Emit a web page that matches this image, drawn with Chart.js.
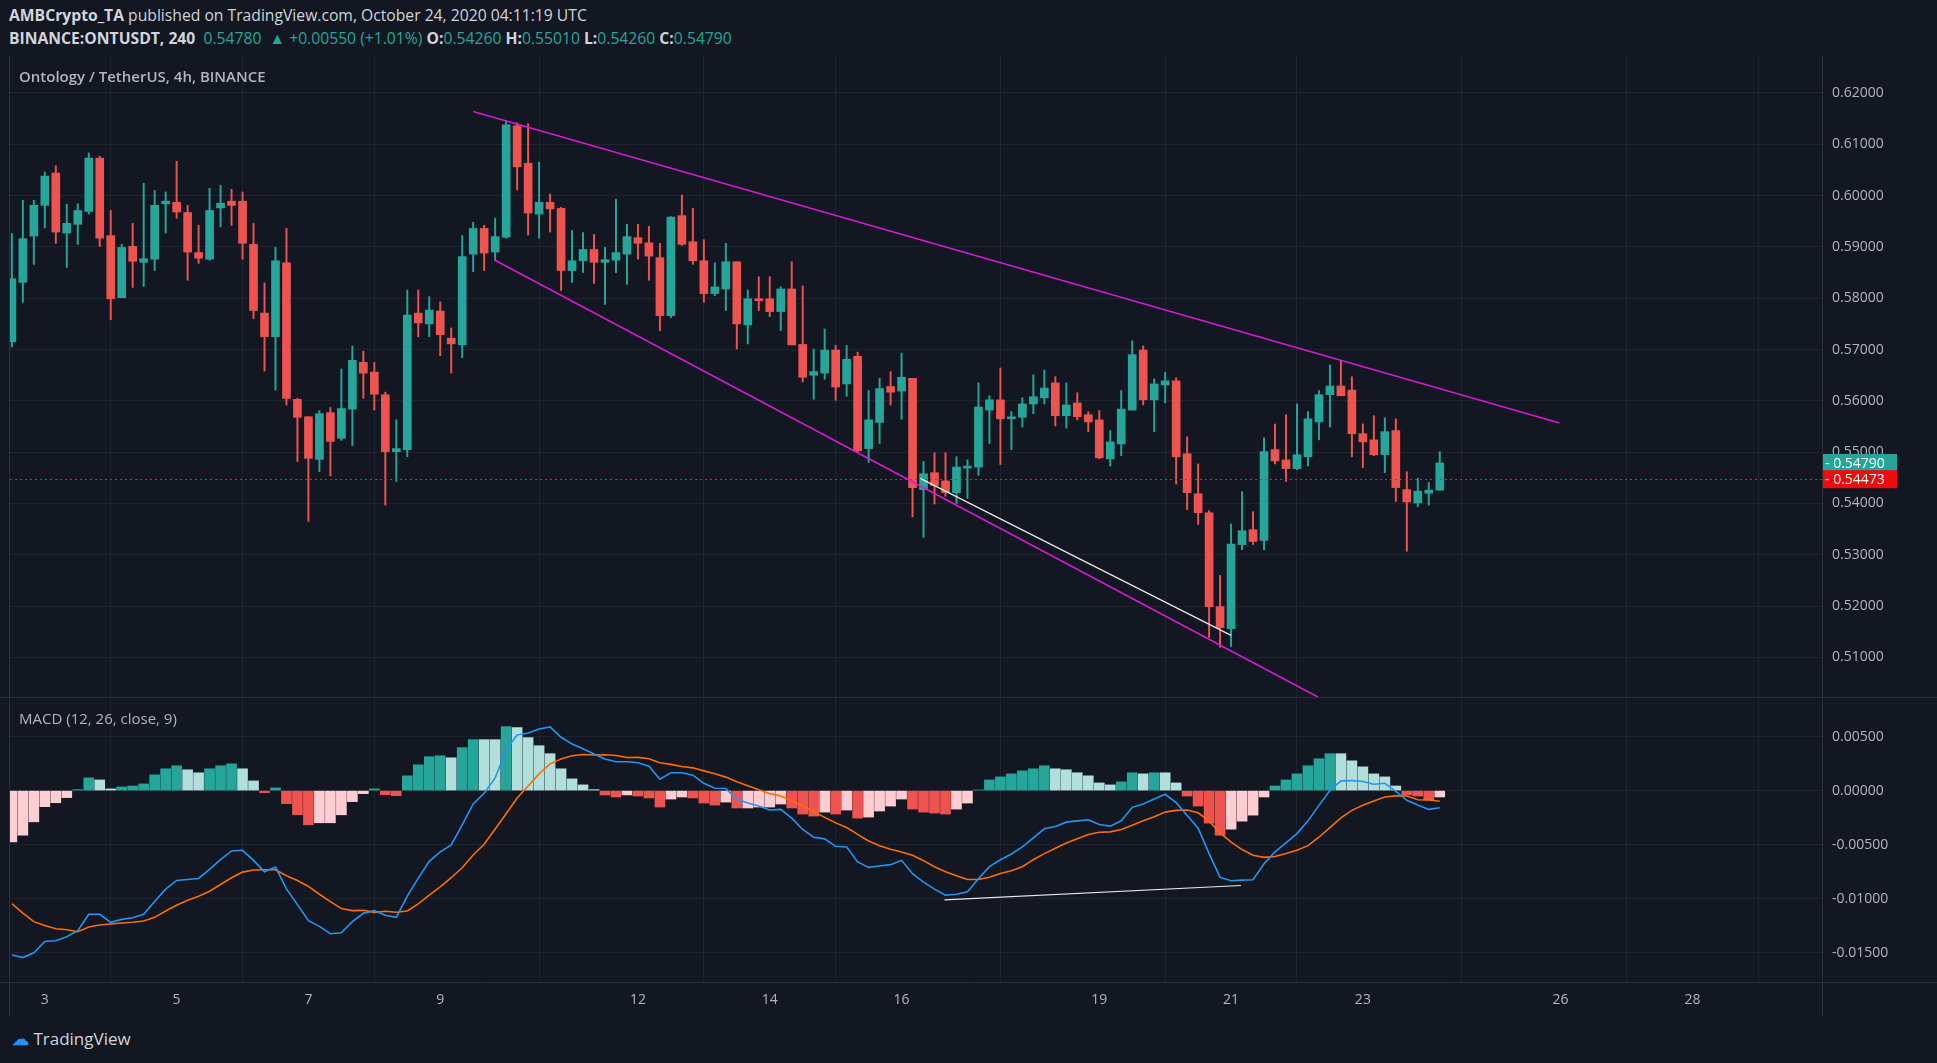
<!DOCTYPE html>
<html><head><meta charset="utf-8">
<script src="https://cdn.jsdelivr.net/npm/chart.js@4.4.1/dist/chart.umd.min.js"></script>
<style>
html,body{margin:0;padding:0;background:#131722;width:1937px;height:1063px;overflow:hidden;font-family:"Open Sans","Noto Sans",sans-serif;}
.t{position:absolute;white-space:pre;color:#d1d4dc;font-size:15.7px;}
.g{color:#26a69a}
canvas{position:absolute;left:0;}
</style></head><body>
<div class="t" style="left:9px;top:4px;"><b>AMBCrypto_TA</b> published on TradingView.com, October 24, 2020 04:11:19 UTC</div>
<div class="t" style="left:9px;top:27px;"><b>BINANCE:ONTUSDT, 240</b>  <span class="g">0.54780</span>  <span class="g">▲ +0.00550 (+1.01%)</span> <b>O:</b><span class="g">0.54260</span> <b>H:</b><span class="g">0.55010</span> <b>L:</b><span class="g">0.54260</span> <b>C:</b><span class="g">0.54790</span></div>
<canvas id="pc" width="1937" height="642" style="top:56px"></canvas>
<canvas id="mc" width="1937" height="318" style="top:698px"></canvas>
<div class="t" style="left:19px;top:66px;color:#b2b5be;font-size:15px;font-weight:600;">Ontology / TetherUS, 4h, BINANCE</div>
<div class="t" style="left:19px;top:708px;color:#b2b5be;font-size:15px;">MACD (12, 26, close, 9)</div>
<div style="position:absolute;left:0;top:697px;width:1937px;height:1px;background:#2a2e39"></div>
<div class="t" style="left:12px;top:1027px;font-size:17px;color:#d1d4dc;"><span style="color:#2196f3;font-weight:bold;">☁</span> TradingView</div>
<script>
const opens=[.5715,.5831,.5921,.5981,.6044,.5927,.5944,.5969,.6073,.5922,.5801,.5901,.5870,.5876,.5984,.5987,.5967,.5889,.5876,.5976,.5989,.5989,.5905,.5771,.5725,.5869,.5603,.5569,.5486,.5577,.5527,.5584,.5675,.5656,.5612,.5501,.5505,.5771,.5750,.5775,.5722,.5709,.5886,.5936,.5890,.5919,.6136,.6063,.5964,.5987,.5975,.5854,.5873,.5895,.5870,.5874,.5886,.5918,.5908,.5879,.5766,.5961,.5910,.5873,.5809,.5818,.5871,.5748,.5799,.5799,.5774,.5818,.5710,.5650,.5654,.5699,.5633,.5687,.5507,.5558,.5628,.5619,.5644,.5427,.5460,.5444,.5421,.5469,.5471,.5582,.5602,.5565,.5568,.5594,.5606,.5635,.5571,.5596,.5573,.5563,.5487,.5516,.5582,.5699,.5602,.5631,.5639,.5497,.5419,.5382,.5199,.5156,.5320,.5349,.5328,.5505,.5485,.5468,.5491,.5559,.5612,.5629,.5621,.5536,.5524,.5495,.5542,.5427,.5401,.5420,.5426];
const closes=[.5838,.5916,.5981,.6038,.5929,.5946,.5971,.6073,.5917,.5799,.5899,.5872,.5877,.5981,.5989,.5968,.5890,.5878,.5971,.5985,.5981,.5907,.5776,.5725,.5873,.5605,.5568,.5488,.5575,.5521,.5585,.5679,.5654,.5613,.5501,.5507,.5767,.5752,.5777,.5729,.5711,.5881,.5936,.5888,.5920,.6138,.6056,.5966,.5987,.5974,.5854,.5873,.5895,.5870,.5875,.5889,.5920,.5907,.5882,.5766,.5958,.5905,.5873,.5809,.5822,.5871,.5750,.5799,.5795,.5774,.5818,.5709,.5646,.5657,.5699,.5627,.5681,.5503,.5563,.5624,.5617,.5646,.5431,.5458,.5435,.5421,.5471,.5471,.5588,.5602,.5565,.5567,.5594,.5608,.5625,.5571,.5592,.5569,.5559,.5489,.5520,.5584,.5690,.5602,.5633,.5639,.5491,.5421,.5382,.5199,.5158,.5321,.5347,.5326,.5501,.5483,.5468,.5495,.5565,.5612,.5629,.5610,.5536,.5520,.5495,.5540,.5431,.5403,.5424,.5426,.5479];
const highs=[.5926,.5991,.5991,.6046,.6058,.5983,.5984,.6083,.6077,.5971,.5905,.5946,.6024,.6010,.6007,.6067,.5981,.5942,.6014,.6020,.6012,.6007,.5946,.5830,.5899,.5936,.5605,.5569,.5581,.5587,.5662,.5707,.5697,.5675,.5617,.5563,.5816,.5816,.5803,.5793,.5742,.5922,.5948,.5942,.5956,.6146,.6142,.6140,.6065,.6003,.5977,.5932,.5928,.5924,.5899,.5993,.5944,.5944,.5940,.5907,.5959,.6001,.5975,.5914,.5869,.5907,.5871,.5816,.5842,.5842,.5822,.5871,.5824,.5701,.5740,.5708,.5708,.5695,.5620,.5644,.5657,.5693,.5644,.5482,.5499,.5499,.5491,.5485,.5635,.5610,.5664,.5579,.5606,.5651,.5660,.5647,.5635,.5616,.5579,.5581,.5542,.5620,.5717,.5707,.5643,.5656,.5645,.5530,.5477,.5386,.5260,.5360,.5423,.5384,.5528,.5555,.5573,.5594,.5579,.5620,.5670,.5678,.5647,.5555,.5571,.5567,.5565,.5462,.5449,.5441,.5501];
const lows=[.5705,.5792,.5866,.5937,.5907,.5860,.5905,.5964,.5901,.5758,.5801,.5821,.5823,.5854,.5927,.5956,.5835,.5868,.5874,.5939,.5942,.5876,.5760,.5658,.5621,.5592,.5482,.5365,.5462,.5454,.5523,.5513,.5605,.5582,.5397,.5443,.5491,.5725,.5725,.5688,.5654,.5684,.5852,.5854,.5874,.5917,.6011,.5923,.5917,.5929,.5815,.5831,.5850,.5829,.5788,.5850,.5827,.5876,.5835,.5737,.5762,.5903,.5866,.5792,.5805,.5776,.5701,.5711,.5776,.5764,.5737,.5709,.5637,.5603,.5642,.5601,.5609,.5501,.5480,.5517,.5592,.5564,.5374,.5334,.5399,.5414,.5400,.5410,.5455,.5517,.5476,.5505,.5549,.5575,.5594,.5551,.5547,.5563,.5540,.5487,.5473,.5493,.5582,.5592,.5540,.5596,.5438,.5388,.5359,.5139,.5120,.5121,.5310,.5320,.5310,.5477,.5443,.5466,.5473,.5524,.5549,.5610,.5491,.5470,.5493,.5460,.5404,.5307,.5394,.5397,.5426];
// MACD values in thousandths
const histK=[-4.75,-4.13,-2.89,-1.49,-1.12,-0.65,0.09,1.18,0.99,0.16,0.34,0.43,0.62,1.46,2.02,2.30,1.93,1.65,2.02,2.30,2.48,2.02,0.90,-0.19,0.25,-1.21,-2.24,-3.17,-2.98,-2.98,-2.24,-1.02,-0.28,0.16,-0.37,-0.47,1.37,2.39,3.14,3.23,3.04,3.98,4.72,4.72,4.72,5.93,5.84,4.91,4.16,3.42,2.02,1.09,0.53,0.09,-0.40,-0.59,-0.40,-0.50,-0.68,-1.52,-0.78,-0.59,-0.68,-1.15,-1.34,-1.06,-1.61,-1.61,-1.52,-1.52,-1.24,-1.61,-2.17,-2.36,-1.99,-2.17,-1.80,-2.55,-2.45,-1.89,-1.43,-0.78,-1.71,-1.99,-2.08,-2.17,-1.71,-1.15,0.06,0.99,1.27,1.55,1.83,2.02,2.30,2.02,1.93,1.65,1.37,0.71,0.53,0.81,1.65,1.55,1.65,1.65,0.71,-0.50,-1.43,-3.01,-4.13,-3.57,-2.83,-2.27,-0.59,0.43,0.99,1.55,2.30,2.95,3.42,3.42,2.76,2.20,1.55,1.27,0.43,-0.40,-0.50,-0.87,-0.59];
const macdK=[-15.22,-15.47,-15.03,-13.98,-13.91,-13.54,-12.98,-11.46,-11.46,-12.20,-11.93,-11.77,-11.46,-10.28,-9.13,-8.32,-8.23,-8.14,-7.30,-6.40,-5.59,-5.53,-6.46,-7.52,-7.08,-9.10,-10.56,-12.05,-12.58,-13.26,-13.17,-12.14,-11.37,-11.12,-11.55,-11.74,-9.78,-8.11,-6.55,-5.68,-5.03,-3.17,-1.24,-0.25,1.17,3.79,5.16,5.34,5.71,5.90,4.94,4.32,3.88,3.39,2.92,2.67,2.67,2.58,2.27,1.06,1.65,1.65,1.43,0.68,0.22,0.19,-0.78,-1.15,-1.43,-1.80,-1.74,-2.55,-3.60,-4.32,-4.47,-5.16,-5.22,-6.61,-7.11,-6.99,-6.86,-6.46,-7.70,-8.48,-9.13,-9.69,-9.60,-9.38,-8.17,-7.04,-6.40,-5.87,-5.22,-4.38,-3.54,-3.32,-2.92,-2.80,-2.70,-3.14,-3.29,-2.80,-1.55,-1.24,-0.78,-0.34,-1.12,-2.30,-3.48,-5.84,-8.04,-8.35,-8.29,-8.26,-6.77,-5.68,-4.84,-3.98,-2.80,-1.37,0.00,0.90,0.93,0.84,0.59,0.68,-0.06,-0.90,-1.34,-1.74,-1.58];
const dayLabels=['3','5','7','9','12','14','16','19','21','23','26','28'];
const dayIndex=[3,15,27,39,57,69,81,99,111,123,141,153];
const priceTicks=[0.51,0.52,0.53,0.54,0.55,0.56,0.57,0.58,0.59,0.60,0.61,0.62];
const macdTicks=[0.005,0,-0.005,-0.01,-0.015];
const upperLine=[[42.0,0.6164],[140.9,0.5557]];
const lowerLine=[[43.9,0.5875],[118.9,0.5023]];
const whiteLine=[[82.7,0.5449],[111.0,0.5143]];
const macdWhite=[[84.9,-0.01012],[111.9,-0.00879]];
const lastPrice=0.54790, prevLine=0.54473;

const UP='#26a69a',DN='#ef5350',GRID='#1f2330',TXT='#b2b5be',BG='#131722';
Chart.defaults.font.family='"Open Sans","Noto Sans",sans-serif';
Chart.defaults.font.size=14;
Chart.defaults.color=TXT;
const XMIN=-0.17,XMAX=164.8;
const colors=opens.map((o,i)=>closes[i]>=o?UP:DN);
const xScale=(showLabels)=>({type:'linear',min:XMIN,max:XMAX,offset:false,
  afterBuildTicks:s=>{s.ticks=dayIndex.map(v=>({value:v}));},
  afterFit:s=>{s.height=showLabels?34:0;s.paddingLeft=0;s.paddingRight=0;},
  grid:{color:GRID,drawTicks:false},border:{display:false},
  ticks:{display:showLabels,autoSkip:false,maxRotation:0,padding:10,color:TXT,
    callback:(v)=>{const k=dayIndex.indexOf(v);return k>=0?dayLabels[k]:'';}}});
function line(ctx,ch,pts,col,w,yid){const xs=ch.scales.x,ys=ch.scales[yid];ctx.save();
  ctx.beginPath();ctx.rect(ch.chartArea.left,ch.chartArea.top,ch.chartArea.right-ch.chartArea.left,ch.chartArea.bottom-ch.chartArea.top);ctx.clip();
  ctx.strokeStyle=col;ctx.lineWidth=w;ctx.beginPath();
  ctx.moveTo(xs.getPixelForValue(pts[0][0]),ys.getPixelForValue(pts[0][1]));
  ctx.lineTo(xs.getPixelForValue(pts[1][0]),ys.getPixelForValue(pts[1][1]));ctx.stroke();ctx.restore();}
const bgPlugin={id:'bg',beforeDraw(ch){const c=ch.ctx;c.save();c.fillStyle=BG;c.fillRect(0,0,ch.width,ch.height);c.restore();},
  afterDraw(ch){const c=ch.ctx,a=ch.chartArea;c.save();c.strokeStyle='#2a2e39';c.lineWidth=1;c.beginPath();c.moveTo(a.right+0.5,0);c.lineTo(a.right+0.5,ch.height);c.moveTo(a.left-0.5,0);c.lineTo(a.left-0.5,ch.height);c.stroke();c.restore();}};
const pricePlugin={id:'pp',afterDatasetsDraw(ch){const c=ch.ctx,a=ch.chartArea,ys=ch.scales.y;
  c.save();c.strokeStyle='#e0271f';c.setLineDash([2,3]);c.lineWidth=1;const yy=Math.round(ys.getPixelForValue(prevLine))+0.5;
  c.beginPath();c.moveTo(a.left,yy);c.lineTo(a.right,yy);c.stroke();c.restore();
  line(c,ch,upperLine,'#d41cd4',1.5,'y');line(c,ch,lowerLine,'#d41cd4',1.5,'y');line(c,ch,whiteLine,'#e8e8e8',1.2,'y');},
  afterDraw(ch){const c=ch.ctx,a=ch.chartArea,ys=ch.scales.y;
  const box=(v,col)=>{const y=ys.getPixelForValue(v);c.fillStyle=col;c.fillRect(a.right+1,y-9,74,18);
    c.fillStyle='#fff';c.font='14px "Open Sans"';c.textBaseline='middle';c.fillText('- '+v.toFixed(5),a.right+3,y+1);};
  c.save();box(lastPrice,UP);box(prevLine,'#f00a0a');c.restore();}};
const yAxis=(min,max,ticks,dec)=>({position:'right',min,max,
  afterBuildTicks:s=>{s.ticks=ticks.map(v=>({value:v}));},
  afterFit:s=>{s.width=115;s.paddingTop=0;s.paddingBottom=0;},grid:{color:GRID,drawTicks:false},border:{display:false},
  ticks:{padding:10,color:TXT,callback:v=>v.toFixed(dec)}});

const idx=opens.map((_,i)=>i);
new Chart(document.getElementById('pc'),{type:'bar',
  data:{datasets:[
   {data:idx.map(i=>({x:i,y:[lows[i],highs[i]]})),backgroundColor:colors,barThickness:1.3,grouped:false,order:2},
   {data:idx.map(i=>({x:i,y:[opens[i],closes[i]]})),backgroundColor:colors,barThickness:8,minBarLength:2,grouped:false,order:1}]},
  options:{responsive:false,animation:false,devicePixelRatio:1,layout:{padding:{left:10,right:0,top:0,bottom:0}},
   plugins:{legend:{display:false},tooltip:{enabled:false}},
   scales:{x:xScale(false),y:yAxis(0.5021,0.6272,priceTicks,5)}},
  plugins:[bgPlugin,pricePlugin]});

const hist=histK.map(v=>v/1000), macd=macdK.map(v=>v/1000), signal=macd.map((m,i)=>m-hist[i]);
const hcol=hist.map((h,i)=>{const p=i?hist[i-1]:h;return h>=0?(h>p?UP:'#b2dfdb'):(h<p?DN:'#ffcdd2');});
const macdPlugin={id:'mp',afterDatasetsDraw(ch){line(ch.ctx,ch,macdWhite,'#e8e8e8',1.2,'y');},
  afterDraw(ch){const c=ch.ctx,a=ch.chartArea;c.save();c.strokeStyle='#2a2e39';c.beginPath();c.moveTo(0,a.bottom+0.5);c.lineTo(ch.width,a.bottom+0.5);c.stroke();c.restore();}};
new Chart(document.getElementById('mc'),{type:'bar',
  data:{datasets:[
   {type:'line',data:idx.map(i=>({x:i,y:macd[i]})),borderColor:'#2196f3',borderWidth:1.6,pointRadius:0,tension:0,order:1},
   {type:'line',data:idx.map(i=>({x:i,y:signal[i]})),borderColor:'#ff6d00',borderWidth:1.6,pointRadius:0,tension:0,order:2},
   {data:idx.map(i=>({x:i,y:hist[i]})),backgroundColor:hcol,barThickness:10,grouped:false,order:3}]},
  options:{responsive:false,animation:false,devicePixelRatio:1,layout:{padding:{left:10,right:0,top:0,bottom:0}},
   plugins:{legend:{display:false},tooltip:{enabled:false}},
   scales:{x:xScale(true),y:yAxis(-0.01773,0.00858,macdTicks,5)}},
  plugins:[bgPlugin,macdPlugin]});
</script></body></html>
